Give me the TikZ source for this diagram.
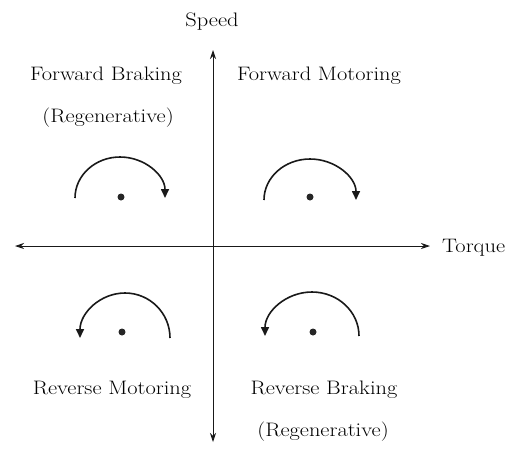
\documentclass[tikz,border=0pt]{standalone}
\usetikzlibrary{arrows.meta}
\newcommand{\widetxt}[1]{\scalebox{1.15}[1]{#1}}
\begin{document}
\begin{tikzpicture}[x=1pt,y=-1pt,
  axis/.style={line width=0.9pt, black!90, {Stealth[length=9pt,width=6pt]}-{Stealth[length=9pt,width=6pt]}},
  rot/.style={line width=1.6pt, black!90, -{Triangle[length=9pt,width=8pt]}},
  lbl/.style={font=\fontsize{19.5}{22}\selectfont, anchor=base, inner sep=0pt, text=black},
  hub/.style={circle, fill=black!85, inner sep=0pt, minimum size=7pt}]
\useasboundingbox (0,0) rectangle (511,451);
% axes
\coordinate (L) at (15,246);
\coordinate (R) at (430,246);
\coordinate (T) at (213,50);
\coordinate (B) at (213,442);
\draw[axis] (L) -- (R);
\draw[axis] (B) -- (T);
\node[lbl, anchor=base west] (torque) at (442,252) {\widetxt{Torque}};
\node[lbl] (speed) at (212,26) {\widetxt{Speed}};
% labels
\node[lbl] (fb) at (106,80) {\widetxt{Forward Braking}};
\node[lbl] (fbr) at (108,122) {\widetxt{(Regenerative)}};
\node[lbl] (fm) at (319,80) {\widetxt{Forward Motoring}};
\node[lbl] (rm) at (112,394) {\widetxt{Reverse Motoring}};
\node[lbl] (rb) at (324,394) {\widetxt{Reverse Braking}};
\node[lbl] (rbr) at (323,436) {\widetxt{(Regenerative)}};
% rotation symbols
\node[hub] (h1) at (121,197) {};
\node[hub] (h2) at (310,197) {};
\node[hub] (h3) at (122,332) {};
\node[hub] (h4) at (313,332) {};
\draw[rot] (75,198) arc[start angle=180, end angle=360, x radius=45, y radius=41];
\draw[rot] (264,200) arc[start angle=180, end angle=360, x radius=46, y radius=41];
\draw[rot] (170,338) arc[start angle=360, end angle=180, x radius=45, y radius=45];
\draw[rot] (359,336) arc[start angle=360, end angle=180, x radius=47, y radius=44];
\end{tikzpicture}
\end{document}
